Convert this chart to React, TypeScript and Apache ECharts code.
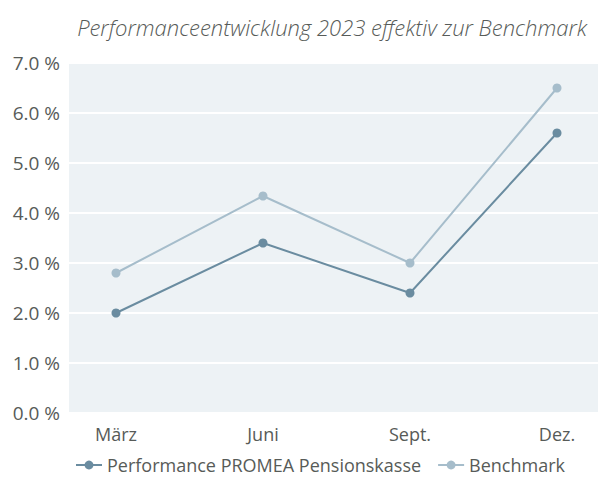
import React, { useEffect, useRef } from "react";
import * as echarts from "echarts";

const categories = ["März", "Juni", "Sept.", "Dez."];
const performance = [2.0, 3.4, 2.4, 5.6];
const benchmark = [2.8, 4.34, 3.0, 6.5];
const seriesNames = ["Performance PROMEA Pensionskasse", "Benchmark"];
const titleText = "Performanceentwicklung 2023 effektiv zur Benchmark";

export default function App() {
  const ref = useRef<HTMLDivElement>(null);
  useEffect(() => {
    document.body.style.margin = "0";
    const chart = echarts.init(ref.current!, null, { renderer: "svg" });
    const font = "'Open Sans', 'Noto Sans', sans-serif";
    const textColor = "#575b58";
    chart.setOption({
      animation: false,
      textStyle: { fontFamily: font },
      title: {
        text: titleText,
        left: 327,
        textAlign: "center",
        top: 11,
        textStyle: { fontFamily: font, fontStyle: "italic", fontWeight: 300, fontSize: 22, color: textColor },
      },
      legend: {
        top: 451,
        left: 70,
        itemGap: 16,
        itemWidth: 26,
        itemHeight: 11,
        textStyle: { fontFamily: font, fontSize: 18, color: textColor },
        data: seriesNames,
      },
      grid: [
        { left: 69, right: 0, top: 63, bottom: 66, show: true, backgroundColor: "#edf2f5", borderWidth: 0 },
        { left: 116, right: 41, top: 63, bottom: 66 },
      ],
      xAxis: [
        { gridIndex: 0, type: "value", show: false, min: 0, max: 1 },
        {
          gridIndex: 1,
          type: "category",
          data: categories,
          boundaryGap: false,
          axisLine: { show: false },
          axisTick: { show: false },
          axisLabel: { fontFamily: font, fontSize: 18, color: textColor, margin: 12 },
        },
      ],
      yAxis: [
        {
          gridIndex: 0,
          type: "value",
          min: 0,
          max: 7,
          interval: 1,
          axisLine: { show: false },
          axisTick: { show: false },
          splitLine: { show: true, lineStyle: { color: "#ffffff", width: 2 } },
          axisLabel: {
            fontFamily: font,
            fontSize: 19,
            color: textColor,
            margin: 9,
            formatter: (v: number) => v.toFixed(1) + " %",
          },
        },
        { gridIndex: 1, type: "value", min: 0, max: 7, interval: 1, show: false, splitLine: { show: false } },
      ],
      series: [
        {
          name: seriesNames[0],
          type: "line",
          xAxisIndex: 1,
          yAxisIndex: 1,
          data: performance,
          symbol: "circle",
          symbolSize: 9,
          color: "#6a8ca0",
          lineStyle: { width: 2, color: "#6a8ca0" },
          itemStyle: { color: "#6a8ca0" },
        },
        {
          name: seriesNames[1],
          type: "line",
          xAxisIndex: 1,
          yAxisIndex: 1,
          data: benchmark,
          symbol: "circle",
          symbolSize: 9,
          color: "#a6bdcb",
          lineStyle: { width: 2, color: "#a6bdcb" },
          itemStyle: { color: "#a6bdcb" },
        },
      ],
    });
    return () => chart.dispose();
  }, []);
  return <div ref={ref} style={{ width: 598, height: 479 }} />;
}
